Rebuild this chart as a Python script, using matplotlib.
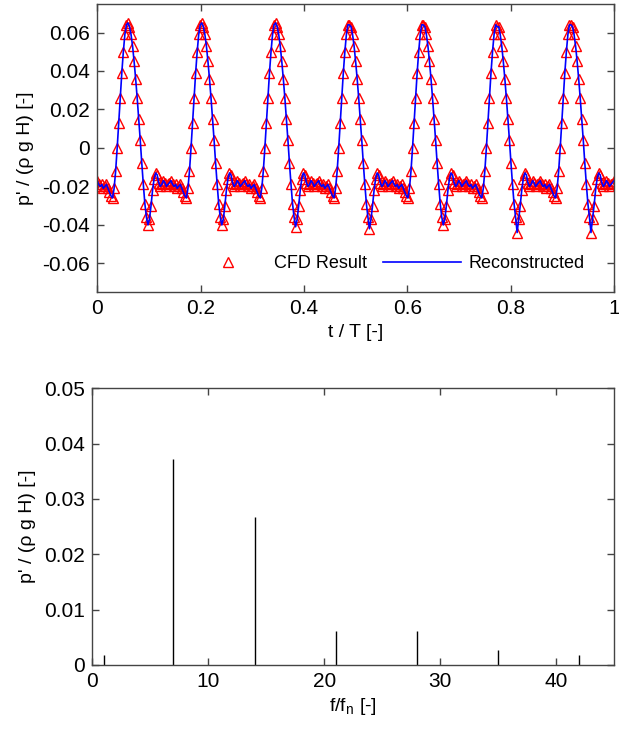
import numpy as np
import matplotlib
matplotlib.use("Agg")
import matplotlib.pyplot as plt

plt.rcParams['font.family'] = ['Liberation Sans', 'DejaVu Sans']
plt.rcParams['font.size'] = 14

# ── 데이터 ─────────────────────────────────────────────
n_periods = 7
# one period of the CFD pressure signal (48 samples per period)
cycle = [-0.017, -0.019, -0.020, -0.019, -0.021, -0.020, -0.019, -0.021,
         -0.023, -0.025, -0.026, -0.021, -0.012, 0.000, 0.013, 0.026,
         0.039, 0.050, 0.059, 0.064, 0.065, 0.063, 0.059, 0.053,
         0.045, 0.036, 0.026, 0.015, 0.004, -0.008, -0.019, -0.029,
         -0.036, -0.040, -0.037, -0.030, -0.022, -0.016, -0.013, -0.014,
         -0.018, -0.020, -0.019, -0.017, -0.018, -0.020, -0.019, -0.018]
# trough depth / peak height of each period
troughs = [-0.040, -0.040, -0.041, -0.042, -0.040, -0.044, -0.044]
peaks = [0.065, 0.065, 0.065, 0.064, 0.064, 0.063, 0.064]

# spectrum
freq = [1, 7, 14, 21, 28, 35, 42]
amp = [0.0018, 0.0373, 0.0268, 0.0061, 0.0061, 0.0027, 0.0018]

p = []
for i in range(n_periods):
    c = list(cycle)
    c[33] = troughs[i]
    c[20] = peaks[i]
    p += c
p.append(cycle[0])
p = np.array(p)
t = np.linspace(0, 1, len(p))

# ── 그림 ──────────────────────────────────────────────
fig = plt.figure(figsize=(6.19, 7.36), dpi=100)
ax1 = fig.add_axes([0.157, 0.603, 0.835, 0.392])
ax2 = fig.add_axes([0.149, 0.0965, 0.843, 0.376])

ax1.plot(t, p, '^', ms=6.5, mfc='none', mec='red', mew=1.0, label='CFD Result')
ax1.plot(t, p, '-', color='blue', lw=1.2, label='Reconstructed')
ax1.set_xlim(0, 1)
ax1.set_ylim(-0.075, 0.075)
ax1.set_xticks(np.arange(0, 1.01, 0.2))
ax1.set_xticklabels(['0', '0.2', '0.4', '0.6', '0.8', '1'])
ax1.set_yticks(np.arange(-0.06, 0.061, 0.02))
ax1.set_yticklabels(['-0.06', '-0.04', '-0.02', '0', '0.02', '0.04', '0.06'])
ax1.set_xlabel('t / T [-]', labelpad=4)
ax1.set_ylabel("p' / (ρ g H) [-]", labelpad=6)
ax1.legend(loc='center', bbox_to_anchor=(0.56, 0.1), ncol=2, frameon=False,
           fontsize=13, handlelength=4.3, handletextpad=0.4, columnspacing=0.9)

ax2.vlines(freq, 0, amp, color='black', lw=1.0)
ax2.set_xlim(0, 45)
ax2.set_ylim(0, 0.05)
ax2.set_xticks([0, 10, 20, 30, 40])
ax2.set_yticks(np.arange(0, 0.051, 0.01))
ax2.set_yticklabels(['0', '0.01', '0.02', '0.03', '0.04', '0.05'])
ax2.set_xlabel('f/f$_\\mathregular{n}$ [-]', labelpad=4)
ax2.set_ylabel("p' / (ρ g H) [-]", labelpad=6)

for ax in (ax1, ax2):
    ax.tick_params(direction='in', top=True, right=True, length=5, width=1,
                   color='#444444', labelsize=15, pad=5)
    for s in ax.spines.values():
        s.set_color('#444444')
        s.set_linewidth(1.0)

fig.savefig('out.png', dpi=100)
